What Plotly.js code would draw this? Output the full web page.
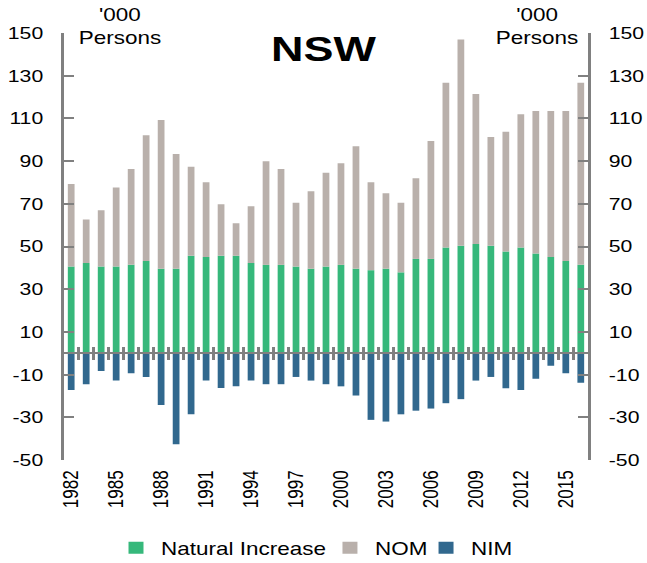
<!DOCTYPE html>
<html><head><meta charset="utf-8">
<script src="https://cdn.plot.ly/plotly-3.0.1.min.js"></script>
<style>
html,body{margin:0;padding:0;overflow:hidden;background:#fff}
#chart{width:518px;height:563px;transform:scaleX(1.249);transform-origin:0 0;}
</style></head><body><div id="chart"></div>
<script>
const years = [1982,1983,1984,1985,1986,1987,1988,1989,1990,1991,1992,1993,1994,1995,1996,1997,1998,1999,2000,2001,2002,2003,2004,2005,2006,2007,2008,2009,2010,2011,2012,2013,2014,2015,2016];
const naturalIncrease = [40.6,42.3,40.6,40.6,41.4,43.2,39.6,39.6,45.7,45.1,45.7,45.7,42.3,41.4,41.4,40.6,39.6,40.6,41.4,39.6,38.9,39.6,37.9,44.2,44.2,49.5,50.3,51.2,50.3,47.6,49.5,46.7,45.1,43.2,41.4];
const nom = [38.7,20.4,26.4,37.0,44.9,58.9,69.7,53.7,41.6,35.0,24.1,15.2,26.6,48.5,44.9,29.9,36.3,44.0,47.6,57.4,41.2,35.3,32.6,37.8,55.2,77.2,96.6,70.2,51.0,56.2,62.4,66.8,68.4,70.3,85.3];
const nim = [-17.2,-14.5,-8.3,-12.8,-9.4,-11.1,-24.2,-42.6,-28.6,-12.8,-16.3,-15.5,-12.8,-14.5,-14.5,-11.1,-12.8,-14.5,-15.5,-19.8,-31.2,-32.0,-28.6,-26.9,-25.9,-23.4,-21.5,-12.8,-11.1,-16.4,-17.2,-11.9,-5.8,-9.4,-13.8];
const yTicks = [-50,-30,-10,10,30,50,70,90,110,130,150];
const xTickYears = [1982,1985,1988,1991,1994,1997,2000,2003,2006,2009,2012,2015];
const seriesNames = ['Natural Increase','NOM','NIM'];
const seriesColors = ['#36B87B','#B9B0AB','#31688E'];

const FONT = 'Liberation Sans, Arial, sans-serif';
const GRAY = '#808080';
const xRange = [years[0]-0.5, years[years.length-1]+0.5];
const boundaries = years.slice(1).map(y => y - 0.5);
const legendIds = ['legend', 'legend2', 'legend3'];
const legendX = [0.1716, 0.5023, 0.6508];

const traces = [naturalIncrease, nom, nim].map((vals, i) => ({
  type: 'bar', x: years, y: vals, name: seriesNames[i],
  marker: {color: seriesColors[i], line: {width: 0}},
  xaxis: 'x', yaxis: 'y', legend: legendIds[i], showlegend: true
}));
// empty helper traces so the right-hand axis and the crossing tick marks on the zero line are drawn
traces.push({type: 'scatter', x: [], y: [], xaxis: 'x2', yaxis: 'y2', showlegend: false, hoverinfo: 'skip'});
traces.push({type: 'scatter', x: [], y: [], xaxis: 'x3', yaxis: 'y', showlegend: false, hoverinfo: 'skip'});

const yBase = {
  range: [-50, 150], tickvals: yTicks, ticktext: yTicks.map(String),
  ticks: 'inside', ticklen: 8, tickwidth: 2,
  tickcolor: GRAY, showline: true, linecolor: GRAY, linewidth: 2,
  showgrid: false, zeroline: false, ticklabelstandoff: 11,
  tickfont: {family: FONT, size: 17, color: '#000'}
};
const zeroAxis = {
  overlaying: 'x', anchor: 'free', position: 0.25, range: xRange,
  tickvals: boundaries, showticklabels: false, ticklen: 6,
  tickwidth: 2, tickcolor: GRAY, linecolor: GRAY, linewidth: 2,
  showgrid: false, zeroline: false
};
const legendBase = {orientation: 'h', xref: 'container', yref: 'container', xanchor: 'left',
  y: 1 - 548/563, yanchor: 'middle', bgcolor: 'rgba(0,0,0,0)',
  font: {family: FONT, size: 18, color: '#000'}};

const layout = {
  width: 518, height: 563,
  margin: {l: 51, r: 47, t: 33, b: 103},
  paper_bgcolor: '#fff', plot_bgcolor: '#fff',
  barmode: 'relative', bargap: 0.55,
  showlegend: true,
  font: {family: FONT, color: '#000'},
  title: {text: '<b>NSW</b>', x: 0.5, y: 0.9135, xanchor: 'center', yanchor: 'middle',
          font: {family: FONT, size: 36, color: '#000'}},
  xaxis: {range: xRange, tickvals: xTickYears, ticktext: xTickYears.map(String),
          tickangle: -90, ticks: '', showline: false, showgrid: false, zeroline: false,
          ticklabelstandoff: 6, tickfont: {family: FONT, size: 17, color: '#000'}},
  xaxis2: Object.assign({}, zeroAxis, {ticks: 'outside', showline: true}),
  xaxis3: Object.assign({}, zeroAxis, {ticks: 'inside', showline: false}),
  yaxis: Object.assign({}, yBase, {side: 'left'}),
  yaxis2: Object.assign({}, yBase, {side: 'right', overlaying: 'y', anchor: 'x'}),
  legend: Object.assign({}, legendBase, {x: legendX[0]}),
  legend2: Object.assign({}, legendBase, {x: legendX[1]}),
  legend3: Object.assign({}, legendBase, {x: legendX[2]}),
  annotations: [
    {text: "'000<br>Persons", xref: 'paper', yref: 'paper', x: 0.107, y: (460-27)/427, showarrow: false, xanchor: 'center', yanchor: 'middle', align: 'center', font: {family: FONT, size: 18}},
    {text: "'000<br>Persons", xref: 'paper', yref: 'paper', x: 0.903, y: (460-27)/427, showarrow: false, xanchor: 'center', yanchor: 'middle', align: 'center', font: {family: FONT, size: 18}}
  ]
};

Plotly.newPlot('chart', traces, layout, {displayModeBar: false, staticPlot: true});
</script></body></html>
